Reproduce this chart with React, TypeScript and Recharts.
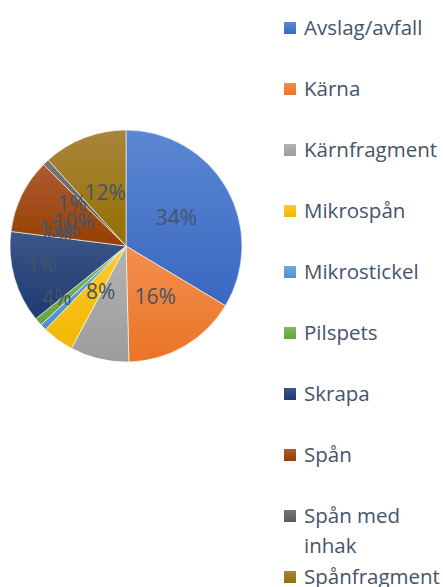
import React from 'react';
import { Cell, Pie, PieChart } from 'recharts';

const categories = [
  'Avslag/avfall',
  'Kärna',
  'Kärnfragment',
  'Mikrospån',
  'Mikrostickel',
  'Pilspets',
  'Skrapa',
  'Spån',
  'Spån med inhak',
  'Spånfragment',
];

// share of finds, in percent
const shares = [33.6, 16.0, 8.2, 4.4, 0.9, 1.1, 12.8, 10.4, 0.9, 11.7];

const lightColors = ['#5B87D3', '#F38E4E', '#B3B3B3', '#FFCB30', '#70A9DD', '#82BA5C', '#3B5689', '#AD5B33', '#767676', '#A8853C'];
const darkColors = ['#3A68C0', '#EA7424', '#9C9C9C', '#F2B700', '#4E92D0', '#65A43E', '#1E3A70', '#973F00', '#5A5A5A', '#946F00'];

// Excel moved some of the crowded labels away from the slice middle
const labelNudge: [number, number][] = [
  [0, 0], [0, 0], [-12, -11], [-35, 4], [-43, -23], [-25, -50], [-11, -33], [0, 0], [-14, -1], [0, 0],
];

const data = categories.map((name, i) => ({ name, value: shares[i] }));
const total = shares.reduce((a, b) => a + b, 0);
const RAD = Math.PI / 180;
const FONT = "'Open Sans', sans-serif";

const renderLabel = (props: any) => {
  const { cx, cy, midAngle, outerRadius, index, value } = props;
  const r = outerRadius * 0.5;
  const [dx, dy] = labelNudge[index] ?? [0, 0];
  const x = cx + r * Math.cos(-midAngle * RAD) + dx;
  const y = cy + r * Math.sin(-midAngle * RAD) + dy;
  return (
    <text x={x} y={y} fill="#44546A" fontSize={21} fontFamily={FONT} textAnchor="middle" dominantBaseline="central">
      {`${Math.round((value / total) * 100)}%`}
    </text>
  );
};

function ChartLegend() {
  const last = categories.length - 1;
  return (
    <div style={{ position: 'absolute', left: 284, top: 12, width: 159, fontFamily: FONT, fontSize: 20.5, color: '#44546A' }}>
      {categories.map((name, i) => (
        <div
          key={name}
          style={{
            display: 'flex',
            alignItems: 'flex-start',
            minHeight: i === last ? 0 : 61,
            lineHeight: i === last ? '22px' : '30px',
            paddingTop: i === last ? 4 : 0,
          }}
        >
          <span
            style={{
              display: 'inline-block',
              width: 12,
              height: 12,
              marginTop: i === last ? 6 : 10,
              marginRight: 8,
              flex: 'none',
              background: `linear-gradient(${lightColors[i]}, ${darkColors[i]})`,
            }}
          />
          <span style={{ width: 139 }}>{name}</span>
        </div>
      ))}
    </div>
  );
}

export default function App() {
  return (
    <div style={{ position: 'absolute', left: 0, top: 0, width: 443, height: 587, background: '#fff', overflow: 'hidden' }}>
      <PieChart width={280} height={587} margin={{ top: 0, right: 0, bottom: 0, left: 0 }}>
        <defs>
          {lightColors.map((c, i) => (
            <linearGradient key={c} id={`grad${i}`} x1="0" y1="0" x2="0" y2="1">
              <stop offset="0%" stopColor={lightColors[i]} />
              <stop offset="100%" stopColor={darkColors[i]} />
            </linearGradient>
          ))}
        </defs>
        <Pie
          data={data}
          dataKey="value"
          nameKey="name"
          cx={126}
          cy={246}
          outerRadius={116}
          startAngle={90}
          endAngle={-270}
          stroke="#ffffff"
          strokeWidth={0.6}
          labelLine={false}
          label={renderLabel}
          isAnimationActive={false}
        >
          {data.map((d, i) => (
            <Cell key={d.name} fill={`url(#grad${i})`} />
          ))}
        </Pie>
      </PieChart>
      <ChartLegend />
    </div>
  );
}
